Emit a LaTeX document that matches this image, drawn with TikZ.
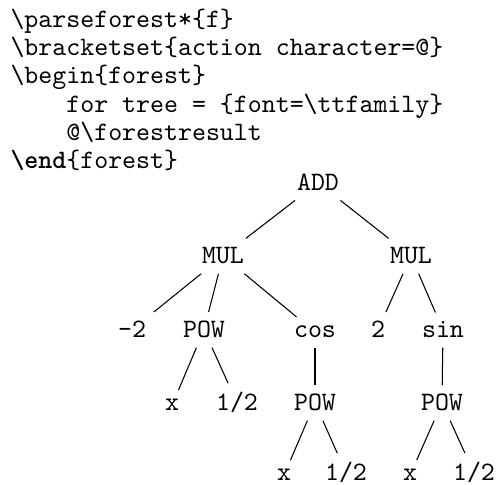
\documentclass[tikz,border=0pt]{standalone}
\usepackage{tikz}

\begin{document}
\begin{tikzpicture}[x=0.376pt,y=-0.376pt,
        codeline/.style={anchor=base west,inner sep=0pt,font=\ttfamily},
        leaf/.style={anchor=base,font=\ttfamily}]
        \useasboundingbox(0,0) rectangle (497,485);
        \node[codeline](l1) at (10,27.5) {\textbackslash parseforest*\{f\}};
        \node[codeline](l2) at (10,55.7) {\textbackslash bracketset\{action character=@\}};
        \node[codeline](l3) at (10,83.9) {\textbackslash begin\{forest\}};
        \node[codeline](l4) at (10,112.1) {\hphantom{0000}for tree = \{font=\textbackslash ttfamily\}};
        \node[codeline](l5) at (10,140.3) {\hphantom{0000}@\textbackslash forestresult};
        \node[codeline](l6) at (10,168.5) {\textbf{\textbackslash end}\{forest\}};
        % the tree
        \node[leaf](add) at (318,191) {ADD};
        \node[leaf](mulL) at (223,264) {MUL};
        \node[leaf](mulR) at (411,264) {MUL};
        \node[leaf](neg) at (132,338) {-2};
        \node[leaf](powA) at (204,338) {POW};
        \node[leaf](cos) at (315,338) {cos};
        \node[leaf](two) at (378,338) {2};
        \node[leaf](sin) at (443,338) {sin};
        \node[leaf](xA) at (172,411) {x};
        \node[leaf](halfA) at (237,411) {1/2};
        \node[leaf](powB) at (315,411) {POW};
        \node[leaf](powC) at (442,411) {POW};
        \node[leaf](xB) at (284,481) {x};
        \node[leaf](halfB) at (346,481) {1/2};
        \node[leaf](xC) at (410,481) {x};
        \node[leaf](halfC) at (474,481) {1/2};
        \draw(add)--(mulL);
        \draw(add)--(mulR);
        \draw(mulL)--(neg);
        \draw(mulL)--(powA);
        \draw(mulL)--(cos);
        \draw(mulR)--(two);
        \draw(mulR)--(sin);
        \draw(powA)--(xA);
        \draw(powA)--(halfA);
        \draw(cos)--(powB);
        \draw(sin)--(powC);
        \draw(powB)--(xB);
        \draw(powB)--(halfB);
        \draw(powC)--(xC);
        \draw(powC)--(halfC);
    \end{tikzpicture}
\end{document}
